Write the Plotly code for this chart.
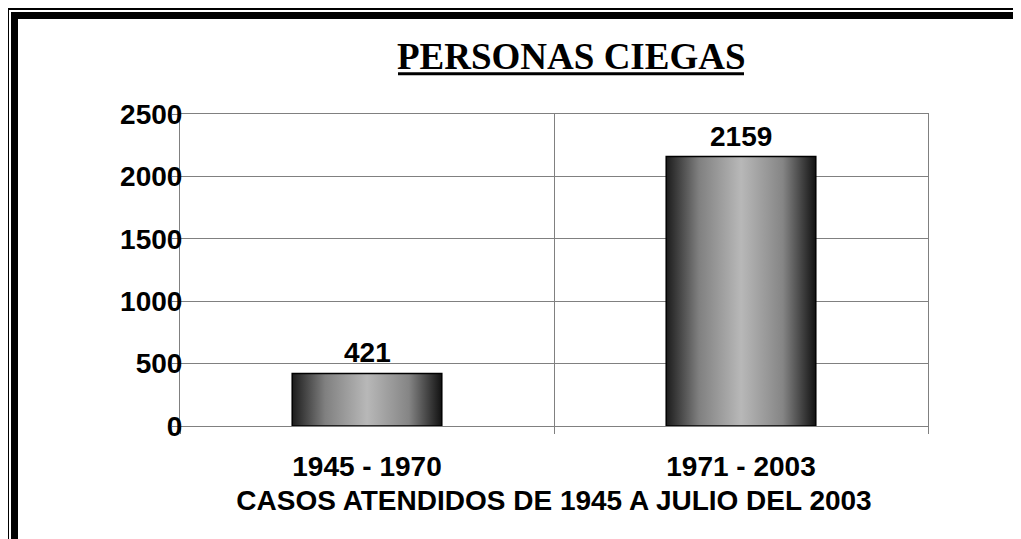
import plotly.graph_objects as go

# ---- data ----
categories = ["1945 - 1970", "1971 - 2003"]
values = [421, 2159]
y_ticks = [0, 500, 1000, 1500, 2000, 2500]
title_text = "PERSONAS CIEGAS"
x_title = "CASOS ATENDIDOS DE 1945 A JULIO DEL 2003"

# ---- layout geometry (screen pixels; page body has an 8px margin) ----
OFF = 8
W_FIG, H_FIG = 1021 - OFF, 539 - OFF
L, R, T, B = 180 - OFF, 928 - OFF, 114 - OFF, 426 - OFF
PW, PH = R - L, B - T


def px(x):
    return (x - OFF - L) / PW


def py(y):
    return (B - (y - OFF)) / PH


BAR_HALF = 0.2
grad = [[0, "#1c1c1c"], [0.22, "#808080"], [0.5, "#b8b8b8"], [0.78, "#858585"], [1, "#121212"]]
GRID = "#808080"
FONT = "Liberation Sans, Arial, sans-serif"

fig = go.Figure()
for i, (cat, v) in enumerate(zip(categories, values)):
    fig.add_trace(go.Scatter(
        x=[i - BAR_HALF, i + BAR_HALF, i + BAR_HALF, i - BAR_HALF, i - BAR_HALF],
        y=[0, 0, v, v, 0],
        mode="lines",
        fill="toself",
        fillgradient=dict(type="horizontal", colorscale=grad),
        line=dict(color="black", width=1.5),
        hoverinfo="skip",
        name=cat,
    ))
    fig.add_annotation(
        x=i, y=v, xref="x", yref="y", text=str(v), showarrow=False,
        yanchor="bottom", yshift=3,
        font=dict(family=FONT, size=28, color="black", weight="bold"),
    )

# title
fig.add_annotation(
    x=px(571), y=py(56), xref="paper", yref="paper", text=title_text,
    showarrow=False, xanchor="center", yanchor="middle",
    font=dict(family="Liberation Serif, Times New Roman, serif", size=37,
              color="black", weight="bold"),
)
fig.add_shape(type="line", xref="paper", yref="paper",
              x0=px(398), x1=px(744), y0=py(73.7), y1=py(73.7),
              line=dict(color="black", width=3))

# double frame
fig.add_shape(type="rect", xref="paper", yref="paper",
              x0=px(8), y0=py(9), x1=px(1200), y1=py(700),
              line=dict(color="black", width=2))
fig.add_shape(type="rect", xref="paper", yref="paper",
              x0=px(14.5), y0=py(15.5), x1=px(1200), y1=py(700),
              line=dict(color="black", width=7))

fig.update_layout(
    width=W_FIG, height=H_FIG,
    margin=dict(l=L, r=W_FIG - R, t=T, b=H_FIG - B),
    plot_bgcolor="white", paper_bgcolor="white",
    showlegend=False,
    font=dict(family=FONT, color="black"),
)
fig.update_xaxes(
    range=[-0.5, len(categories) - 0.5],
    tickmode="array", tickvals=list(range(len(categories))), ticktext=categories,
    ticks="", showgrid=False, zeroline=False,
    showline=True, linecolor=GRID, linewidth=1, mirror=True,
    tickfont=dict(family=FONT, size=28, color="black", weight="bold"),
    ticklabelstandoff=15,
    minor=dict(tickvals=[k - 0.5 for k in range(len(categories) + 1)],
               ticks="outside", ticklen=7, tickcolor=GRID, tickwidth=1,
               showgrid=True, gridcolor=GRID, gridwidth=1),
    title=dict(text=x_title, standoff=9,
               font=dict(family=FONT, size=28, color="black", weight="bold")),
)
fig.update_yaxes(
    range=[0, 2500], tickmode="array", tickvals=y_ticks,
    ticktext=[str(t) for t in y_ticks],
    ticks="", showgrid=True, gridcolor=GRID, gridwidth=1, zeroline=False,
    showline=True, linecolor=GRID, linewidth=1, mirror=True,
    tickfont=dict(family=FONT, size=28, color="black", weight="bold"),
    ticklabelstandoff=-9,
    minor=dict(tickvals=y_ticks, ticks="outside", ticklen=7, tickcolor=GRID,
               tickwidth=1, showgrid=False),
)

fig.write_html("out.html")
